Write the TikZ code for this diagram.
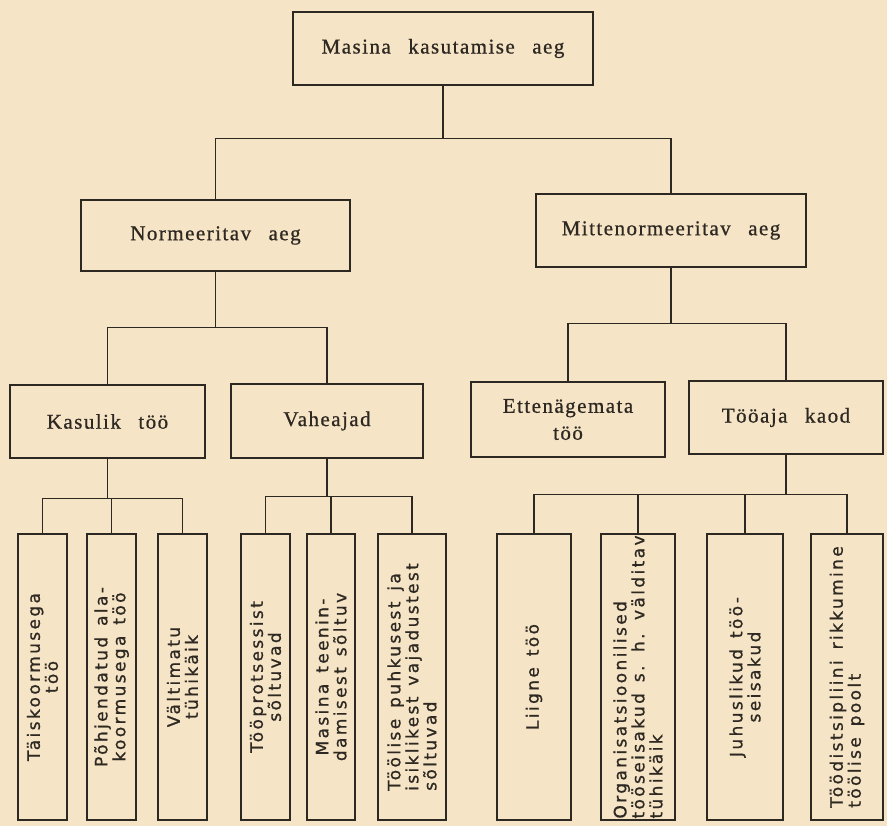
\documentclass[tikz,border=0pt]{standalone}
\usepackage{fontspec}
\newfontfamily\boxfont[LetterSpace=7,WordSpace=2.6,FakeBold=0.7]{Liberation Serif}
\newfontfamily\leaffont[LetterSpace=14,WordSpace=1.4,FakeBold=0.9]{DejaVu Sans}
\definecolor{paper}{RGB}{245,228,197}
\definecolor{ink}{RGB}{46,40,34}
\begin{document}
\begin{tikzpicture}[x=1pt,y=-1pt,
  box/.style={draw=ink, line width=2.5pt, rectangle, inner sep=0pt, text=ink,
    font=\boxfont\fontsize{21}{27}\selectfont, align=center},
  leaf/.style={draw=ink, line width=2.5pt, rectangle, inner sep=0pt, minimum height=286pt},
  leaftext/.style={rotate=90, text=ink, font=\leaffont\fontsize{17}{18}\selectfont,
    align=center, inner sep=0pt},
  link/.style={draw=ink, line width=1.2pt}]
\fill[paper] (0,0) rectangle (887,826);
\useasboundingbox (0,0) rectangle (887,826);

% upper boxes
\node[box, minimum width=300pt, minimum height=73pt] (top) at (443,48.5) {Masina kasutamise aeg};
\node[box, minimum width=269pt, minimum height=71pt] (norm) at (215.5,235.5) {Normeeritav aeg};
\node[box, minimum width=270pt, minimum height=73pt] (mitt) at (671,230.5) {Mittenormeeritav aeg};
\node[box, minimum width=195pt, minimum height=73pt] (kas) at (107.5,421.5) {Kasulik töö};
\node[box, minimum width=192pt, minimum height=74pt] (vah) at (327,421) {Vaheajad};
\node[box, minimum width=194pt, minimum height=75pt] (ett) at (568,419.5) {Ettenägemata\\töö};
\node[box, minimum width=194pt, minimum height=73pt] (too) at (786,417.5) {Tööaja kaod};

% leaf boxes
\node[leaf, minimum width=49pt] (a1) at (42.5,677) {};
\node[leaf, minimum width=49pt] (a2) at (111.5,677) {};
\node[leaf, minimum width=49pt] (a3) at (182.5,677) {};
\node[leaf, minimum width=49pt] (b1) at (265.5,677) {};
\node[leaf, minimum width=48pt] (b2) at (331,677) {};
\node[leaf, minimum width=68pt] (b3) at (412,677) {};
\node[leaf, minimum width=74pt] (c1) at (534,677) {};
\node[leaf, minimum width=74pt] (c2) at (638,677) {};
\node[leaf, minimum width=76pt] (c3) at (745,677) {};
\node[leaf, minimum width=72pt] (c4) at (847,677) {};

% leaf texts
\node[leaftext] (a1t) at (a1.center) {Täiskoormusega\\töö};
\node[leaftext] (a2t) at (a2.center) {Põhjendatud ala-\\koormusega töö};
\node[leaftext] (a3t) at (a3.center) {Vältimatu\\tühikäik};
\node[leaftext] (b1t) at (b1.center) {Tööprotsessist\\sõltuvad};
\node[leaftext] (b2t) at (b2.center) {Masina teenin-\\damisest sõltuv};
\node[leaftext, align=left] (b3t) at (b3.center) {Töölise puhkusest ja\\isiklikest vajadustest\\sõltuvad};
\node[leaftext] (c1t) at (c1.center) {Liigne töö};
\node[leaftext, align=left] (c2t) at (c2.center) {Organisatsioonilised\\tööseisakud s. h. välditav\\tühikäik};
\node[leaftext] (c3t) at (c3.center) {Juhuslikud töö-\\seisakud};
\node[leaftext, align=left] (c4t) at (c4.center) {Töödistsipliini rikkumine\\töölise poolt};

% connectors
\draw[link] (top.south) -- ++(0,52) -| (norm.north);
\draw[link] (top.south) -- ++(0,52) -| (mitt.north);
\draw[link] (norm.south) -- ++(0,55) -| (kas.north);
\draw[link] (norm.south) -- ++(0,55) -| (vah.north);
\draw[link] (mitt.south) -- ++(0,55) -| (ett.north);
\draw[link] (mitt.south) -- ++(0,55) -| (too.north);
\draw[link] (kas.south) -- ++(0,39) -| (a1.north);
\draw[link] (kas.south) -- ++(0,39) -| (a2.north);
\draw[link] (kas.south) -- ++(0,39) -| (a3.north);
\draw[link] (vah.south) -- ++(0,37) -| (b1.north);
\draw[link] (vah.south) -- ++(0,37) -| (b2.north);
\draw[link] (vah.south) -- ++(0,37) -| (b3.north);
\draw[link] (too.south) -- ++(0,39) -| (c1.north);
\draw[link] (too.south) -- ++(0,39) -| (c2.north);
\draw[link] (too.south) -- ++(0,39) -| (c3.north);
\draw[link] (too.south) -- ++(0,39) -| (c4.north);
\end{tikzpicture}
\end{document}
